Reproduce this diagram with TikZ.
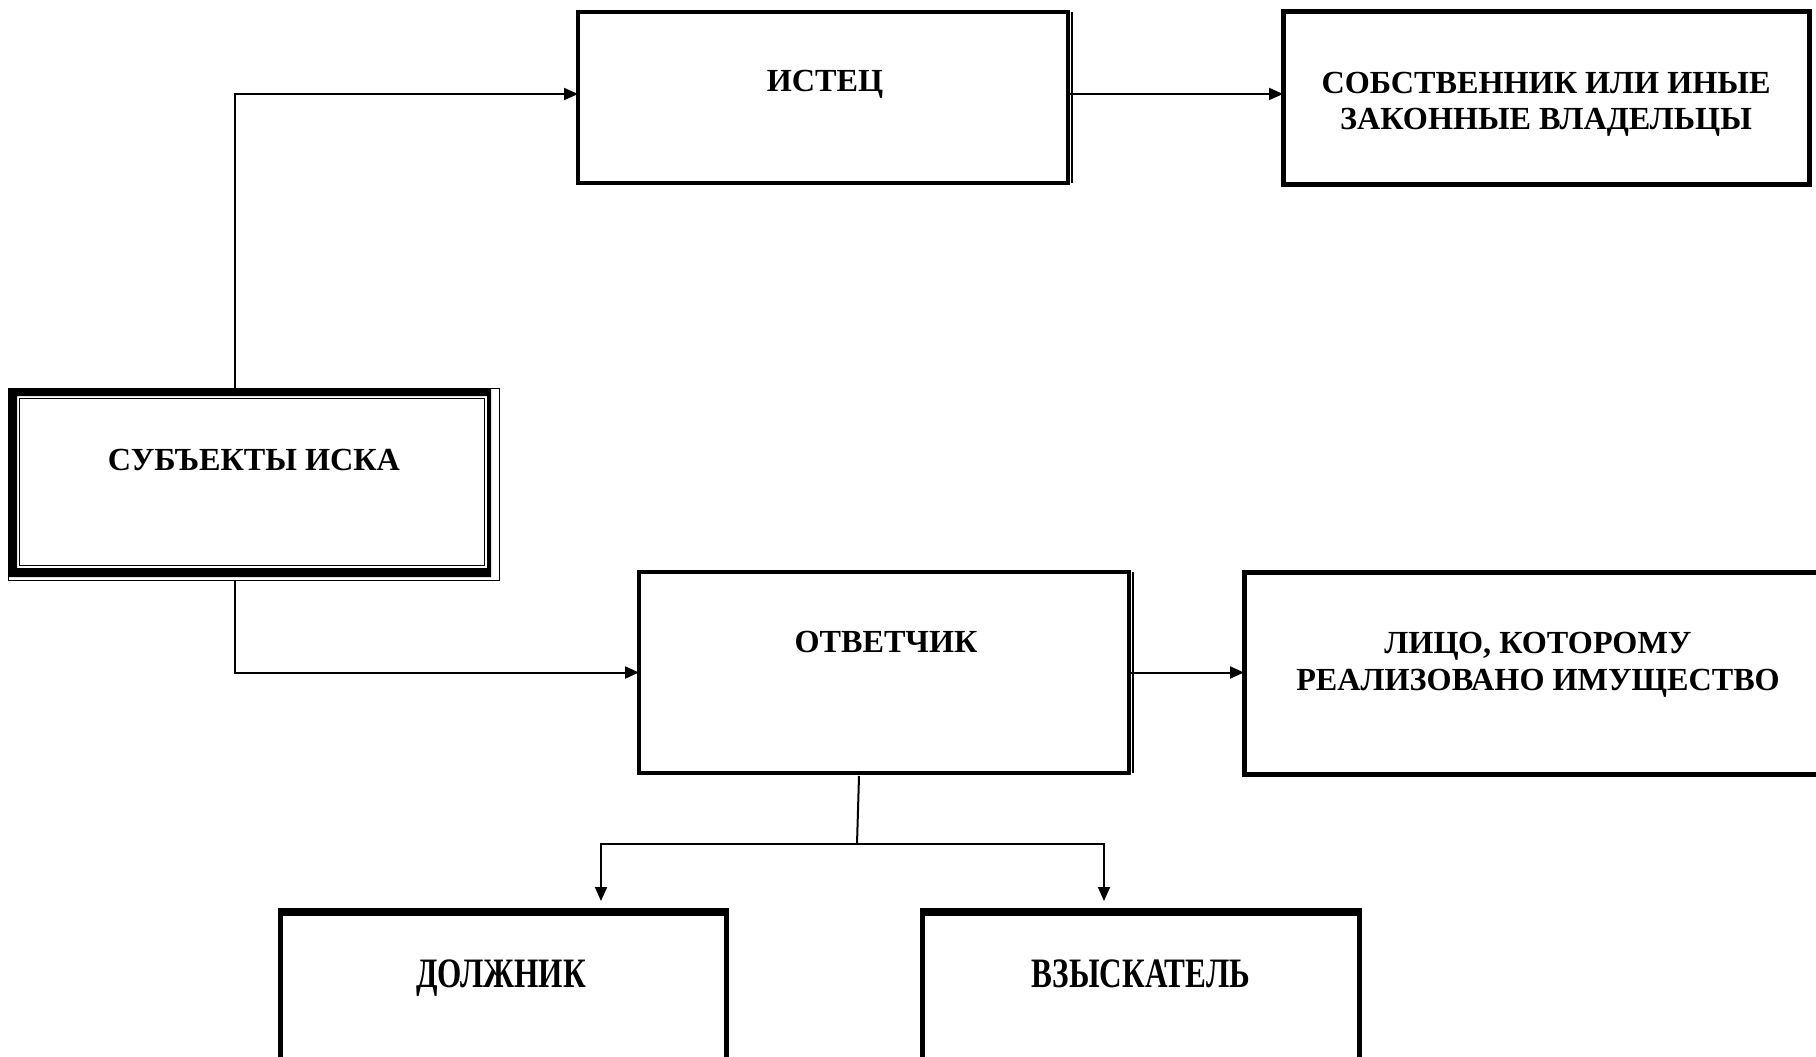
\documentclass[tikz,border=0pt]{standalone}
\usepackage{fontspec}
\setmainfont{Liberation Serif}
\usetikzlibrary{arrows.meta}
\begin{document}
\begin{tikzpicture}[x=1pt,y=-1pt,
  box/.style={draw, line width=3.5pt, inner sep=0pt, outer sep=0pt},
  hbox/.style={box, line width=5pt},
  lbl/.style={font=\fontsize{32.2}{37}\selectfont\bfseries, inner sep=0pt, anchor=base},
  conn/.style={line width=2pt},
  arr/.style={conn, -{Triangle[length=14pt,width=12pt]}}]
\useasboundingbox (0,0) rectangle (1816,1057);
\clip (0,0) rectangle (1816,1057);

% boxes
\node[box, minimum width=490pt, minimum height=171pt] (istec) at (823,97.5) {};
\draw[line width=1.2pt] ([xshift=4pt]istec.north east) -- ([xshift=4pt]istec.south east);
\node[hbox, minimum width=526pt, minimum height=172pt] (sobst) at (1546,98) {};
\node[inner sep=0pt, outer sep=0pt, minimum width=491pt, minimum height=192pt] (subj) at (253.5,484) {};
\draw[line width=1pt] (subj.north west) rectangle (subj.south east);
\fill[even odd rule] (8,388) rectangle (491,577) (17,396) rectangle (487,568);
\draw[line width=1.5pt] (19.5,398.5) rectangle (484.5,565.5);
\node[box, minimum width=490pt, minimum height=201pt] (otv) at (884,672.5) {};
\draw[line width=1.2pt] ([xshift=4pt]otv.north east) -- ([xshift=4pt]otv.south east);
\node[hbox, minimum width=656pt, minimum height=202pt] (lico) at (1572,673) {};
\node[hbox, minimum width=446pt, minimum height=190pt] (dolzh) at (503,1005) {};
\draw[line width=8pt] ([xshift=-2.5pt,yshift=-1.5pt]dolzh.north west) -- ([xshift=2.5pt,yshift=-1.5pt]dolzh.north east);
\node[hbox, minimum width=437pt, minimum height=190pt] (vzysk) at (1140.5,1005) {};
\draw[line width=8pt] ([xshift=-2.5pt,yshift=-1.5pt]vzysk.north west) -- ([xshift=2.5pt,yshift=-1.5pt]vzysk.north east);

% labels
\node[lbl] (istec-t) at (825,92) {ИСТЕЦ};
\node[lbl] (sobst-t1) at (1546,93) {СОБСТВЕННИК ИЛИ ИНЫЕ};
\node[lbl] (sobst-t2) at (1546,129) {ЗАКОННЫЕ ВЛАДЕЛЬЦЫ};
\node[lbl] (subj-t) at (254,470) {СУБЪЕКТЫ ИСКА};
\node[lbl] (otv-t) at (886,652) {ОТВЕТЧИК};
\node[lbl] (lico-t1) at (1538,653) {ЛИЦО, КОТОРОМУ};
\node[lbl] (lico-t2) at (1538,690) {РЕАЛИЗОВАНО ИМУЩЕСТВО};
\node[lbl] (dolzh-t) at (501,987) {\scalebox{0.97}[1.3]{ДОЛЖНИК}};
\node[lbl] (vzysk-t) at (1141,987) {\scalebox{0.97}[1.3]{ВЗЫСКАТЕЛЬ}};

% connectors
\draw[arr] ([xshift=-18.5pt]subj.north) |- ([yshift=3.5pt]istec.west);
\draw[arr] ([yshift=3.5pt]istec.east) -- ([yshift=3.5pt]istec.east -| sobst.west);
\draw[arr] ([xshift=-18.5pt]subj.south) |- (otv.west);
\draw[arr] (otv.east) -- (otv.east -| lico.west);
\coordinate (split) at (857,844);
\coordinate (dtip) at (601,901);
\coordinate (vtip) at (1104,901);
\draw[conn] ([xshift=-25pt,yshift=-3pt]otv.south) -- (split);
\draw[arr] (split) -| (dtip);
\draw[arr] (split) -| (vtip);
\end{tikzpicture}
\end{document}
